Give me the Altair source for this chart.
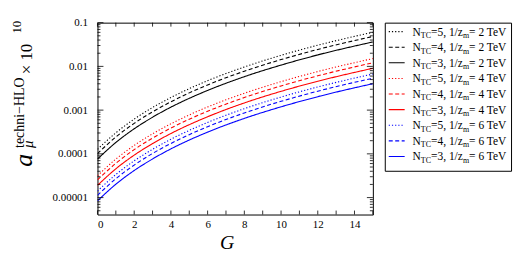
import altair as alt
import pandas as pd

# ---------------- data ----------------
G = [0, 1, 2, 3, 4, 5, 6, 8, 10, 12, 15]

n5_m2 = [1.27e-4, 3.03e-4, 6.23e-4, 1.15e-3, 1.94e-3, 3.10e-3, 4.71e-3, 9.70e-3, 1.79e-2, 3.05e-2, 6.03e-2]
n4_m2 = [1.01e-4, 2.43e-4, 4.99e-4, 9.17e-4, 1.55e-3, 2.48e-3, 3.77e-3, 7.76e-3, 1.43e-2, 2.44e-2, 4.83e-2]
n3_m2 = [7.59e-5, 1.82e-4, 3.74e-4, 6.88e-4, 1.17e-3, 1.86e-3, 2.82e-3, 5.82e-3, 1.07e-2, 1.83e-2, 3.62e-2]
n5_m4 = [3.16e-5, 7.58e-5, 1.56e-4, 2.87e-4, 4.86e-4, 7.75e-4, 1.18e-3, 2.43e-3, 4.48e-3, 7.62e-3, 1.51e-2]
n4_m4 = [2.53e-5, 6.07e-5, 1.25e-4, 2.29e-4, 3.89e-4, 6.20e-4, 9.41e-4, 1.94e-3, 3.58e-3, 6.09e-3, 1.21e-2]
n3_m4 = [1.90e-5, 4.55e-5, 9.35e-5, 1.72e-4, 2.92e-4, 4.65e-4, 7.06e-4, 1.46e-3, 2.69e-3, 4.57e-3, 9.05e-3]
n5_m6 = [1.41e-5, 3.37e-5, 6.93e-5, 1.27e-4, 2.16e-4, 3.44e-4, 5.23e-4, 1.08e-3, 1.99e-3, 3.39e-3, 6.70e-3]
n4_m6 = [1.12e-5, 2.70e-5, 5.54e-5, 1.02e-4, 1.73e-4, 2.75e-4, 4.18e-4, 8.62e-4, 1.59e-3, 2.71e-3, 5.36e-3]
n3_m6 = [8.43e-6, 2.02e-5, 4.16e-5, 7.64e-5, 1.30e-4, 2.07e-4, 3.14e-4, 6.47e-4, 1.19e-3, 2.03e-3, 4.02e-3]

n_tc = ["5", "4", "3", "5", "4", "3", "5", "4", "3"]
mass = ["2", "2", "2", "4", "4", "4", "6", "6", "6"]
series_values = [n5_m2, n4_m2, n3_m2, n5_m4, n4_m4, n3_m4, n5_m6, n4_m6, n3_m6]

x_label_values = [0, 2, 4, 6, 8, 10, 12, 14]
x_tick_values = list(range(0, 16))
y_major = [1e-5, 1e-4, 1e-3, 1e-2, 1e-1]
y_minor = [k * 10.0 ** e for e in range(-6, -1) for k in range(2, 10) if k * 10.0 ** e > 4.1e-6]

# ---------------- styles ----------------
FONT = "Liberation Serif"
W, H = 277, 193
keys = [f"{n}-{m}" for n, m in zip(n_tc, mass)]
colors = ["black"] * 3 + ["red"] * 3 + ["blue"] * 3
DOT, DASH, SOLID = [1.2, 2], [4, 2.5], [1, 0]
dashes = [DOT, DASH, SOLID] * 3

rows = []
for k, vals in zip(keys, series_values):
    for g, v in zip(G, vals):
        rows.append({"G": g, "v": v, "s": k})
df = pd.DataFrame(rows)

xscale = alt.Scale(domain=[0, 15], nice=False, zero=False)
yscale = alt.Scale(type="log", domain=[4.1e-6, 0.1], nice=False)
xaxis = alt.Axis(values=x_label_values, ticks=False, tickSize=0, domain=False, grid=False,
                 labelFont=FONT, labelFontSize=11, labelColor="black", labelPadding=4, title=None)
yaxis = alt.Axis(values=y_major, format=".5~f", ticks=False, tickSize=0, domain=False, grid=False,
                 labelFont=FONT, labelFontSize=11, labelColor="black", labelPadding=10, title=None)
cscale = alt.Scale(domain=keys, range=colors)
dscale = alt.Scale(domain=keys, range=dashes)

lines = alt.Chart(df).mark_line(strokeWidth=1.1, interpolate="monotone", clip=True).encode(
    x=alt.X("G:Q", scale=xscale, axis=xaxis),
    y=alt.Y("v:Q", scale=yscale, axis=yaxis),
    color=alt.Color("s:N", scale=cscale, legend=None),
    strokeDash=alt.StrokeDash("s:N", scale=dscale, legend=None),
)

xt = pd.DataFrame({"G": x_tick_values})
ymaj = pd.DataFrame({"v": y_major})
ymin = pd.DataFrame({"v": y_minor})
tick_style = dict(color="black", strokeWidth=0.8)

bt = alt.Chart(xt).mark_rule(**tick_style).encode(
    x=alt.X("G:Q", scale=xscale, axis=xaxis), y=alt.value(H), y2=alt.value(H - 4))
tt = alt.Chart(xt).mark_rule(**tick_style).encode(
    x=alt.X("G:Q", scale=xscale, axis=xaxis), y=alt.value(0), y2=alt.value(4))
lmaj = alt.Chart(ymaj).mark_rule(**tick_style).encode(
    y=alt.Y("v:Q", scale=yscale, axis=yaxis), x=alt.value(0), x2=alt.value(6))
rmaj = alt.Chart(ymaj).mark_rule(**tick_style).encode(
    y=alt.Y("v:Q", scale=yscale, axis=yaxis), x=alt.value(W), x2=alt.value(W - 6))
lmin = alt.Chart(ymin).mark_rule(**tick_style).encode(
    y=alt.Y("v:Q", scale=yscale, axis=yaxis), x=alt.value(0), x2=alt.value(3))
rmin = alt.Chart(ymin).mark_rule(**tick_style).encode(
    y=alt.Y("v:Q", scale=yscale, axis=yaxis), x=alt.value(W), x2=alt.value(W - 3))

one = pd.DataFrame({"t": [0]})


def label(text, x, y, size, angle=270, italic=False, align="left"):
    kw = dict(font=FONT, fontSize=size, color="black", align=align, baseline="alphabetic")
    if angle:
        kw["angle"] = angle
    if italic:
        kw["fontStyle"] = "italic"
    return alt.Chart(one).mark_text(**kw).encode(
        x=alt.value(x), y=alt.value(y), text=alt.value(text))


ytitle = [
    label("a", -66, 145, 26, italic=True),
    label("μ", -64.5, 126, 15, italic=True),
    label("techni\u2212HLO", -74, 126, 14),
    label("× 10", -66, 52, 17),
    label("10", -76.5, 11, 13),
]
xtitle = label("G", 130.5, 228, 20, angle=0, italic=True, align="center")

main = alt.layer(lines, bt, tt, lmaj, rmaj, lmin, rmin, *ytitle, xtitle).properties(width=W, height=H)

# ---------------- legend panel ----------------
LW, LH = 127, 149
leg = pd.DataFrame({
    "s": keys,
    "y": [9 + 15.7 * i for i in range(len(keys))],
    "p1": [f"={n}," for n in n_tc],
    "p2": [f"= {m} TeV" for m in mass],
})
lyscale = alt.Scale(domain=[0, LH], reverse=True, nice=False, zero=False)
ly = alt.Y("y:Q", scale=lyscale, axis=None)

sym = alt.Chart(leg).mark_rule(strokeWidth=1.1).encode(
    x=alt.value(4), x2=alt.value(20), y=ly,
    color=alt.Color("s:N", scale=cscale, legend=None),
    strokeDash=alt.StrokeDash("s:N", scale=dscale, legend=None),
)


def ltext(x, size, dy, text=None, field=None):
    m = alt.Chart(leg).mark_text(font=FONT, fontSize=size, color="black", align="left",
                                 baseline="alphabetic", dy=dy)
    enc = dict(x=alt.value(x), y=ly)
    enc["text"] = alt.Text(field) if field else alt.value(text)
    return m.encode(**enc)


MAIN, SUB = 11.5, 8
legend = alt.layer(
    sym,
    ltext(28, MAIN, 4, text="N"),
    ltext(36.3, SUB, 6.5, text="TC"),
    ltext(46.5, MAIN, 4, field="p1:N"),
    ltext(64.5, MAIN, 4, text="1/z"),
    ltext(78.6, SUB, 6.5, text="m"),
    ltext(84.8, MAIN, 4, field="p2:N"),
).properties(width=LW, height=LH)

chart = alt.hconcat(main, legend, spacing=12, bounds="flush").properties(
    padding={"left": 2, "top": 7, "right": 5, "bottom": 5}
).configure_view(stroke="black", strokeWidth=1)

chart.save("out.html", embed_options={"renderer": "svg", "actions": False})
